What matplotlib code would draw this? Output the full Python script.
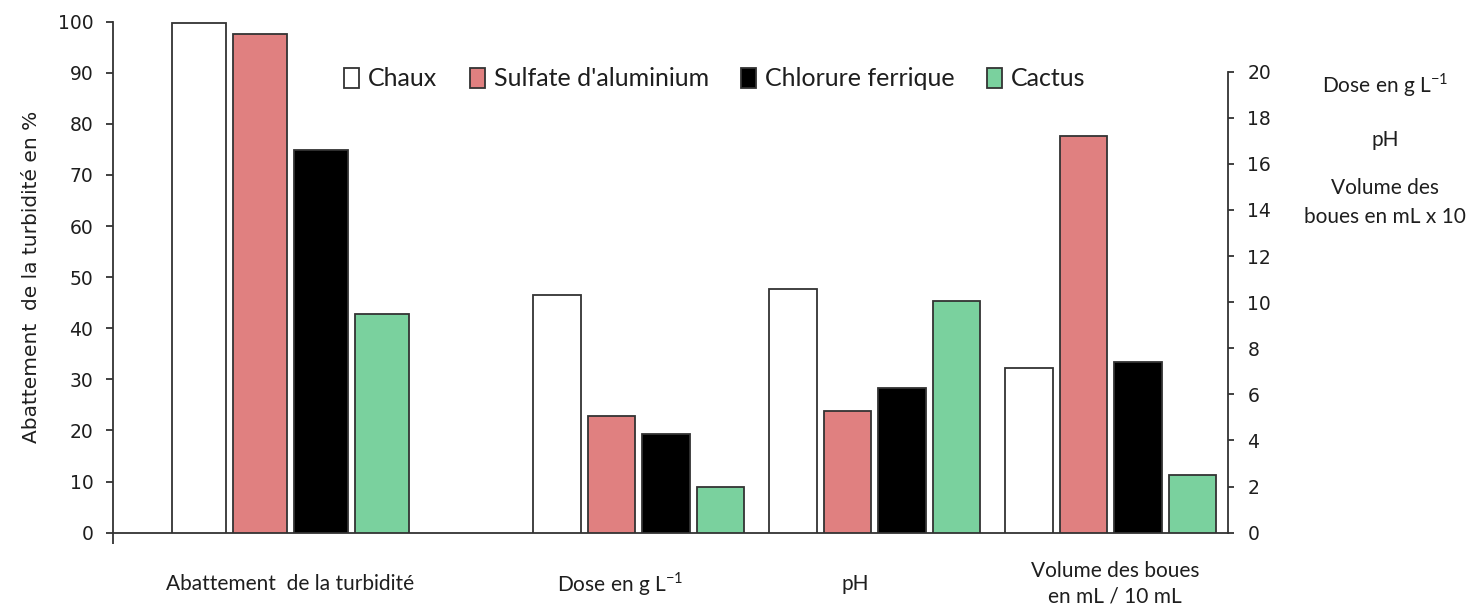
import matplotlib.pyplot as plt
import numpy as np
from matplotlib.patches import Patch

# Coagulants compared and their results
series = ['Chaux', "Sulfate d'aluminium", 'Chlorure ferrique', 'Cactus']
colors = ['#ffffff', '#e08080', '#000000', '#7ad19e']

# Turbidity removal in % (left axis)
abattement = [99.8, 97.6, 74.9, 42.7]
# Right axis: dose (g/L), pH, sludge volume (mL x 10)
dose = [10.33, 5.05, 4.27, 1.99]
ph = [10.58, 5.30, 6.28, 10.06]
volume = [7.14, 17.19, 7.42, 2.51]

group_labels = ['Abattement  de la turbidité', 'Dose en g L$^{\\mathregular{-1}}$', 'pH',
                'Volume des boues\nen mL / 10 mL']

plt.rcParams['font.family'] = ['Lato', 'DejaVu Sans']
text_col = '#1e1e1e'
edge_col = '#333333'

fig = plt.figure(figsize=(14.77, 6.11), dpi=100)
ax = fig.add_axes([0.0763, 0.1282, 0.7551, 0.8363])
ax2 = ax.twinx()

# x positions of each group centre (pixel-like units)
x_lo, x_hi = 112.7, 1228
centres = [291, 639, 875, 1111]
label_x = [290, 620, 855, 1115]

# First group on the left axis, wider bars
step1, width1 = 61, 54
off1 = (np.arange(4) - 1.5) * step1
for i in range(4):
    ax.bar(centres[0] + off1[i], abattement[i], width=width1, color=colors[i],
           edgecolor=edge_col, linewidth=1.3, zorder=3)

# Remaining groups on the right axis
step2, width2 = 54.5, 47.5
off2 = (np.arange(4) - 1.5) * step2
for g, vals in zip(centres[1:], [dose, ph, volume]):
    for i in range(4):
        ax2.bar(g + off2[i], vals[i], width=width2, color=colors[i],
                edgecolor=edge_col, linewidth=1.3, zorder=3)

ax.set_xlim(x_lo, x_hi)
ax.set_ylim(0, 100)
ax.set_yticks(np.arange(0, 101, 10))
ax2.set_ylim(0, 22.17)
ax2.set_yticks(np.arange(0, 21, 2))

for s in ['top', 'right']:
    ax.spines[s].set_visible(False)
for s in ['top', 'left', 'bottom']:
    ax2.spines[s].set_visible(False)
ax2.spines['right'].set_bounds(0, 20)
for sp in [ax.spines['left'], ax.spines['bottom'], ax2.spines['right']]:
    sp.set_color(edge_col)
    sp.set_linewidth(1.3)

ax.tick_params(axis='y', length=5, width=1.3, color=edge_col, pad=9,
               labelsize=13.5, labelcolor=text_col, labelfontfamily='DejaVu Sans')
ax2.tick_params(axis='y', length=4, width=1.3, color=edge_col, pad=10,
                labelsize=13.5, labelcolor=text_col, labelfontfamily='DejaVu Sans')
ax.set_xticks([x_lo])
ax.set_xticklabels([''])
ax.tick_params(axis='x', length=8, width=1.3, color=edge_col)

ax.set_ylabel('Abattement  de la turbidité en %', fontsize=14.5, color=text_col,
              family='DejaVu Sans', labelpad=12)

# Category labels under the groups
for x, lab in zip(label_x, group_labels):
    ax.text(x, -0.1, lab, transform=ax.get_xaxis_transform(), ha='center',
            va='center', fontsize=15, color=text_col, linespacing=1.35)

# Right-hand axis annotations
fig.text(0.938, 0.861, 'Dose en g L$^{\\mathregular{-1}}$', ha='center', va='center',
         fontsize=15, color=text_col)
fig.text(0.938, 0.771, 'pH', ha='center', va='center', fontsize=15, color=text_col)
fig.text(0.938, 0.668, 'Volume des\nboues en mL x 10', ha='center', va='center',
         fontsize=15, color=text_col, linespacing=1.55)

handles = [Patch(facecolor=c, edgecolor=edge_col, linewidth=1.3) for c in colors]
fig.legend(handles, series, loc='center', bbox_to_anchor=(0.484, 0.871), ncol=4,
           frameon=False, fontsize=18, handlelength=0.6, handleheight=0.85,
           handletextpad=0.35, columnspacing=1.3, labelcolor=text_col)

fig.savefig('out.png', dpi=100)
